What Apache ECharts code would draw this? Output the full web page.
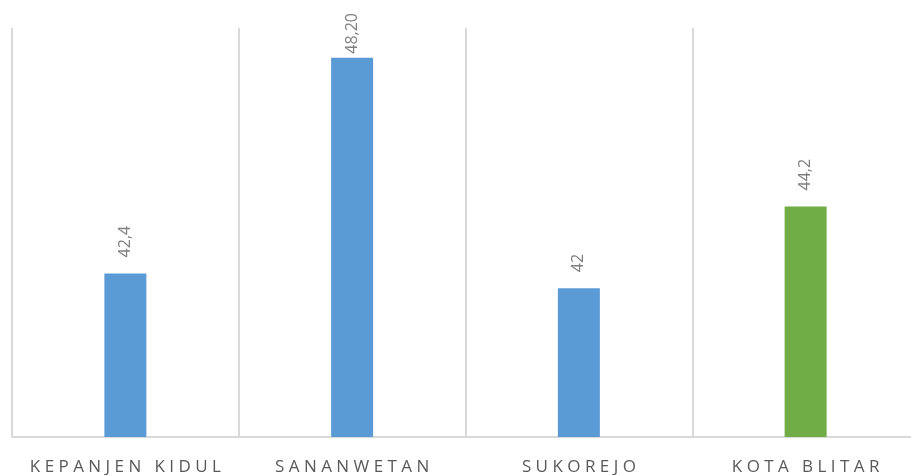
<!DOCTYPE html>
<html>
<head>
<meta charset="utf-8">
<script src="https://cdn.jsdelivr.net/npm/echarts@6/dist/echarts.min.js"></script>
<style>
  html, body { margin: 0; padding: 0; background: #fff; }
  #chart { width: 911px; height: 475px; }
</style>
</head>
<body>
<div id="chart"></div>
<script>
var categories = ['KEPANJEN KIDUL', 'SANANWETAN', 'SUKOREJO', 'KOTA BLITAR'];
var values = [42.4, 48.2, 42, 44.2];
var valueLabels = ['42,4', '48,20', '42', '44,2'];
var barColors = ['#5b9bd5', '#5b9bd5', '#5b9bd5', '#70ad47'];

// spread the letters out like the original's wide tracking
function spaced(s) {
  return s.split(' ').map(function (w) { return w.split('').join(' '); }).join('   ');
}

var chart = echarts.init(document.getElementById('chart'));
chart.setOption({
  animation: false,
  backgroundColor: '#fff',
  grid: { left: 12, width: 907, top: 28, bottom: 38, outerBoundsMode: 'none' },
  xAxis: {
    type: 'category',
    data: categories,
    axisLine: { lineStyle: { color: '#d9d9d9', width: 2 } },
    axisTick: { show: false },
    splitLine: { show: true, interval: 0, lineStyle: { color: '#d9d9d9', width: 2 } },
    axisLabel: {
      interval: 0,
      hideOverlap: false,
      margin: 22,
      color: '#595959',
      fontFamily: 'Open Sans',
      fontSize: 17,
      formatter: function (v) { return spaced(v); }
    }
  },
  yAxis: {
    type: 'value',
    min: 38,
    max: 49,
    show: false,
    splitLine: { show: false }
  },
  series: [{
    type: 'bar',
    barWidth: 42,
    data: values.map(function (v, i) {
      var item = { value: v, itemStyle: { color: barColors[i] } };
      // tallest bar: label pushed down so it stays inside the chart
      if (v === Math.max.apply(null, values)) item.label = { distance: 4 };
      return item;
    }),
    label: {
      show: true,
      position: 'top',
      rotate: 90,
      align: 'left',
      verticalAlign: 'middle',
      distance: 16,
      color: '#7f7f7f',
      fontFamily: 'Open Sans',
      fontSize: 16,
      formatter: function (p) { return valueLabels[p.dataIndex]; }
    }
  }]
});
</script>
</body>
</html>
